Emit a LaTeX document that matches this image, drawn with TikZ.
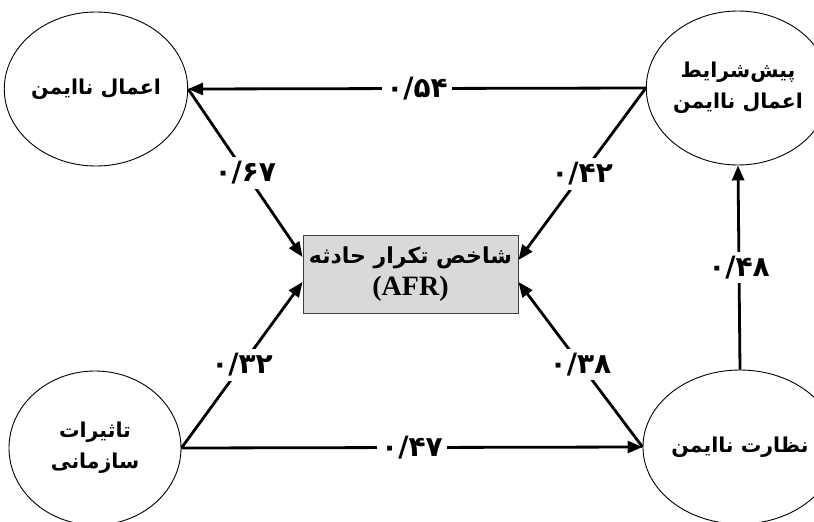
\documentclass[tikz,border=0pt]{standalone}
\usepackage{fontspec}
\setmainfont{Liberation Serif}
\newfontfamily\arabicfont[Script=Arabic]{DejaVu Sans}
\newfontfamily\digitfont{DejaVu Sans}
\TeXXeTstate=1
\usetikzlibrary{shapes.geometric,arrows.meta}
\begin{document}
\begin{tikzpicture}[x=1pt,y=-1pt,
  circ/.style={ellipse, draw=black, line width=0.9pt, minimum width=172pt, minimum height=154pt, inner sep=0pt, align=center, font=\arabicfont\bfseries\fontsize{20.5}{31}\selectfont},
  centerbox/.style={rectangle, draw=black!75, line width=0.9pt, fill=black!15, minimum width=215pt, minimum height=78pt, align=center, inner sep=0pt, font=\fontsize{22}{32}\selectfont},
  conn/.style={line width=2.8pt, -{Triangle[length=15pt,width=12pt]}},
  coef/.style={fill=white, inner sep=4pt, font=\digitfont\bfseries\fontsize{28}{30}\selectfont}]
\useasboundingbox (0,0) rectangle (814,522);
\node[circ] (tl) at (96,89) {\beginR اعمال ناایمن\endR};
\node[circ] (tr) at (738,88) {\beginR پیش‌شرایط\endR\\ \beginR اعمال ناایمن\endR};
\node[circ] (bl) at (95,448) {\beginR تاثیرات\endR\\ \beginR سازمانی\endR};
\node[circ] (br) at (740,447) {\beginR نظارت ناایمن\endR};
\node[centerbox] (box) at (410.5,274) {{\arabicfont\bfseries\beginR شاخص تکرار حادثه\endR}\\ {\bfseries\fontsize{28}{32}\selectfont (AFR)}};
\coordinate (boxwu) at ([yshift=17pt]box.west);
\coordinate (boxwd) at ([yshift=-8pt]box.west);
\coordinate (boxeu) at ([yshift=14pt]box.east);
\coordinate (boxed) at ([yshift=-8pt]box.east);
\draw[conn] (tr.west) -- node[coef] {۰/۵۴} (tl.east);
\draw[conn] (tl.east) -- node[coef] {۰/۶۷} (boxwu);
\draw[conn] (tr.west) -- node[coef] {۰/۴۲} (boxeu);
\draw[conn] (bl.east) -- node[coef] {۰/۳۲} (boxwd);
\draw[conn] (br.west) -- node[coef] {۰/۳۸} (boxed);
\draw[conn] (bl.east) -- node[coef] {۰/۴۷} (br.west);
\draw[conn] (br.north) -- node[coef] {۰/۴۸} (tr.south);
\end{tikzpicture}
\end{document}
